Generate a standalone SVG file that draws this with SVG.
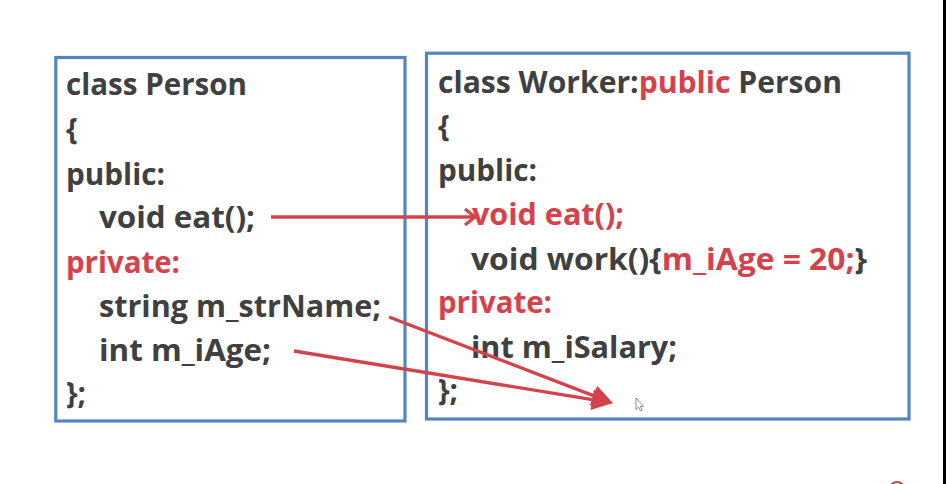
<svg xmlns="http://www.w3.org/2000/svg" width="946" height="484" viewBox="0 0 946 484">
  <defs>
    <style>
      .box { fill: none; stroke: #5584c4; stroke-width: 3.2; }
      .t { font-family: "Open Sans", "Liberation Sans", sans-serif; font-weight: 700; font-size: 29.5px; fill: #404040; }
      .r { fill: #d4434b; }
      .conn { fill: none; stroke: #d4434b; stroke-width: 3.4; }
    </style>
    <marker id="open" markerUnits="userSpaceOnUse" markerWidth="24" markerHeight="24" refX="0" refY="0" orient="auto" overflow="visible">
      <path d="M-10,-8 L0,0 L-10,8" fill="none" stroke="#d4434b" stroke-width="3.2"/>
    </marker>
    <marker id="solid" markerUnits="userSpaceOnUse" markerWidth="30" markerHeight="30" refX="0" refY="0" orient="auto" overflow="visible">
      <path d="M10,0 L-11,-10.5 L-11,10.5 Z" fill="#d4434b"/>
    </marker>
  </defs>
  <rect width="946" height="484" fill="#ffffff"/>
  <rect x="943" y="0" width="3" height="484" fill="#000000"/>

  <g id="person">
    <rect class="box" x="55.8" y="57.5" width="349.2" height="363.5"/>
    <text class="t" x="66" y="95" textLength="181" lengthAdjust="spacingAndGlyphs">class Person</text>
    <text class="t" x="66" y="140">{</text>
    <text class="t" x="66" y="185" textLength="99" lengthAdjust="spacingAndGlyphs">public:</text>
    <text class="t" x="99" y="228" textLength="156" lengthAdjust="spacingAndGlyphs">void eat();</text>
    <text class="t r" x="66" y="273" textLength="114" lengthAdjust="spacingAndGlyphs">private:</text>
    <text class="t" x="99" y="317" textLength="282" lengthAdjust="spacingAndGlyphs">string m_strName;</text>
    <text class="t" x="99" y="361" textLength="172" lengthAdjust="spacingAndGlyphs">int m_iAge;</text>
    <text class="t" x="66" y="404">};</text>
  </g>

  <g id="worker">
    <rect class="box" x="426.5" y="53.2" width="482.5" height="365.8"/>
    <text class="t" x="438" y="93" textLength="404" lengthAdjust="spacingAndGlyphs">class Worker:<tspan class="r">public</tspan> Person</text>
    <text class="t" x="438" y="137">{</text>
    <text class="t" x="438" y="181" textLength="99" lengthAdjust="spacingAndGlyphs">public:</text>
    <text class="t r" x="472" y="225" textLength="152" lengthAdjust="spacingAndGlyphs">void eat();</text>
    <text class="t" x="471" y="270" textLength="396" lengthAdjust="spacingAndGlyphs">void work(){<tspan class="r">m_iAge = 20;</tspan>}</text>
    <text class="t r" x="438" y="313" textLength="114" lengthAdjust="spacingAndGlyphs">private:</text>
    <text class="t" x="471" y="358" textLength="206" lengthAdjust="spacingAndGlyphs">int m_iSalary;</text>
    <text class="t" x="438" y="401">};</text>
  </g>

  <g id="connectors">
    <path class="conn" d="M271,217 L475,217" marker-end="url(#open)"/>
    <path class="conn" d="M389,317 L603.7,399.6" marker-end="url(#solid)"/>
    <path class="conn" d="M294,351 L603.1,401.4" marker-end="url(#solid)"/>
  </g>

  <g id="cursor">
    <path d="M636,398 L636,409.5 L638.6,407 L640.6,411 L642.2,410.2 L640.3,406.3 L643.6,406.3 Z" fill="#ffffff" stroke="#707070" stroke-width="0.8"/>
  </g>
  <circle cx="897" cy="489" r="7" fill="none" stroke="#c8404a" stroke-width="2"/>
</svg>
